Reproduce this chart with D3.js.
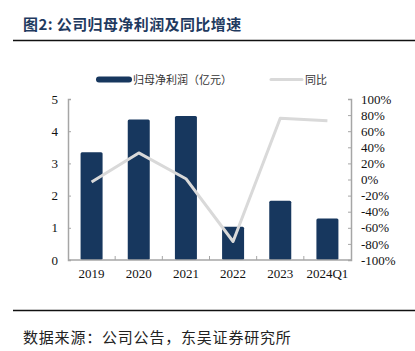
<!DOCTYPE html>
<html>
<head>
<meta charset="utf-8">
<script src="https://cdn.jsdelivr.net/npm/d3@7"></script>
<style>
  body { margin: 0; background: #fff; }
</style>
</head>
<body>
<div id="chart"></div>
<script>
const width = 415;
const height = 351;

const categories = ['2019', '2020', '2021', '2022', '2023', '2024Q1'];
const profit = [3.35, 4.36, 4.47, 1.03, 1.84, 1.29];
const growth = [-3, 33, 1, -77, 76, 73];

const leftTicks = [0, 1, 2, 3, 4, 5];
const rightTicks = [-100, -80, -60, -40, -20, 0, 20, 40, 60, 80, 100];

const titleText = '图2:  公司归母净利润及同比增速';
const sourceText = '数据来源：公司公告，东吴证券研究所';
const barName = '归母净利润（亿元）';
const lineName = '同比';

const plot = { left: 68, right: 351, top: 99, bottom: 260 };

const svg = d3.select('#chart')
  .append('svg')
    .attr('width', width)
    .attr('height', height);

const cjkFont = '"Noto Sans CJK SC", sans-serif';
const tickFont = '"Liberation Serif", "Times New Roman", serif';

// Title and rules
svg.append('text')
  .attr('x', 23)
  .attr('y', 30)
  .style('font-family', cjkFont)
  .style('font-size', '15px')
  .style('font-weight', 'bold')
  .style('letter-spacing', '0.4px')
  .attr('fill', '#1f3a5f')
  .text(titleText);

svg.append('line')
  .attr('x1', 13).attr('x2', 415)
  .attr('y1', 40.5).attr('y2', 40.5)
  .attr('stroke', '#111').attr('stroke-width', 1.5);

svg.append('line')
  .attr('x1', 13).attr('x2', 415)
  .attr('y1', 310.5).attr('y2', 310.5)
  .attr('stroke', '#111').attr('stroke-width', 1.5);

svg.append('text')
  .attr('x', 23)
  .attr('y', 343)
  .style('font-family', cjkFont)
  .style('font-size', '15px')
  .style('letter-spacing', '0.8px')
  .attr('fill', '#222')
  .text(sourceText);

// Scales
const band = d3.scaleBand().domain(categories).range([plot.left, plot.right]);
const y = d3.scaleLinear().domain([0, 5]).range([plot.bottom, plot.top]);
const y2 = d3.scaleLinear().domain([-100, 100]).range([plot.bottom, plot.top]);

// Bars
svg.append('g')
  .selectAll('rect')
  .data(profit)
  .join('rect')
    .attr('x', (d, i) => band(categories[i]) + band.bandwidth() / 2 - 11)
    .attr('width', 22)
    .attr('y', d => y(d))
    .attr('height', d => y(0) - y(d))
    .attr('rx', 1.5)
    .attr('fill', '#17375e');

// Line
const line = d3.line()
  .x((d, i) => band(categories[i]) + band.bandwidth() / 2)
  .y(d => y2(d));

svg.append('path')
  .datum(growth)
  .attr('d', line)
  .attr('fill', 'none')
  .attr('stroke', '#d9d9d9')
  .attr('stroke-width', 3)
  .attr('stroke-linejoin', 'round');

// Axes
const axisColor = '#a6a6a6';

const leftAxis = svg.append('g')
  .attr('transform', `translate(${plot.left}, 0)`)
  .call(d3.axisLeft(y).tickValues(leftTicks).tickFormat(d3.format('d'))
    .tickSizeInner(-3).tickSizeOuter(-3).tickPadding(10));

const rightAxis = svg.append('g')
  .attr('transform', `translate(${plot.right}, 0)`)
  .call(d3.axisRight(y2).tickValues(rightTicks).tickSizeInner(-3).tickSizeOuter(-3).tickPadding(10)
    .tickFormat(d => d + '%'));

const bottomAxis = svg.append('g')
  .attr('transform', `translate(0, ${plot.bottom})`)
  .call(d3.axisBottom(band).tickSize(0).tickPadding(9));

// Category divider ticks on the x axis
svg.append('g')
  .selectAll('line')
  .data(categories.slice(1))
  .join('line')
    .attr('x1', d => band(d))
    .attr('x2', d => band(d))
    .attr('y1', plot.bottom)
    .attr('y2', plot.bottom - 4)
    .attr('stroke', axisColor);

[leftAxis, rightAxis, bottomAxis].forEach(a => {
  a.attr('font-family', null).attr('font-size', null);
  a.selectAll('path, line').attr('stroke', axisColor);
  a.selectAll('text')
    .style('font-family', tickFont)
    .style('font-size', '13px')
    .attr('fill', '#111');
});
bottomAxis.select('.domain').attr('d', `M${plot.left},0H${plot.right}`).attr('stroke-width', 1.5);
leftAxis.select('.domain').attr('stroke-width', 1.5);
rightAxis.select('.domain').attr('stroke-width', 1.5);

// Legend
const legend = svg.append('g');
legend.append('rect')
  .attr('x', 96).attr('y', 76.5)
  .attr('width', 36).attr('height', 6)
  .attr('rx', 3)
  .attr('fill', '#17375e');
legend.append('text')
  .attr('x', 133).attr('y', 83.5)
  .style('font-family', cjkFont)
  .style('font-size', '11px')
  .attr('fill', '#333')
  .text(barName);
legend.append('line')
  .attr('x1', 271).attr('x2', 302)
  .attr('y1', 79.5).attr('y2', 79.5)
  .attr('stroke', '#d9d9d9')
  .attr('stroke-width', 3)
  .attr('stroke-linecap', 'round');
legend.append('text')
  .attr('x', 305).attr('y', 83.5)
  .style('font-family', cjkFont)
  .style('font-size', '11px')
  .attr('fill', '#333')
  .text(lineName);
</script>
</body>
</html>
